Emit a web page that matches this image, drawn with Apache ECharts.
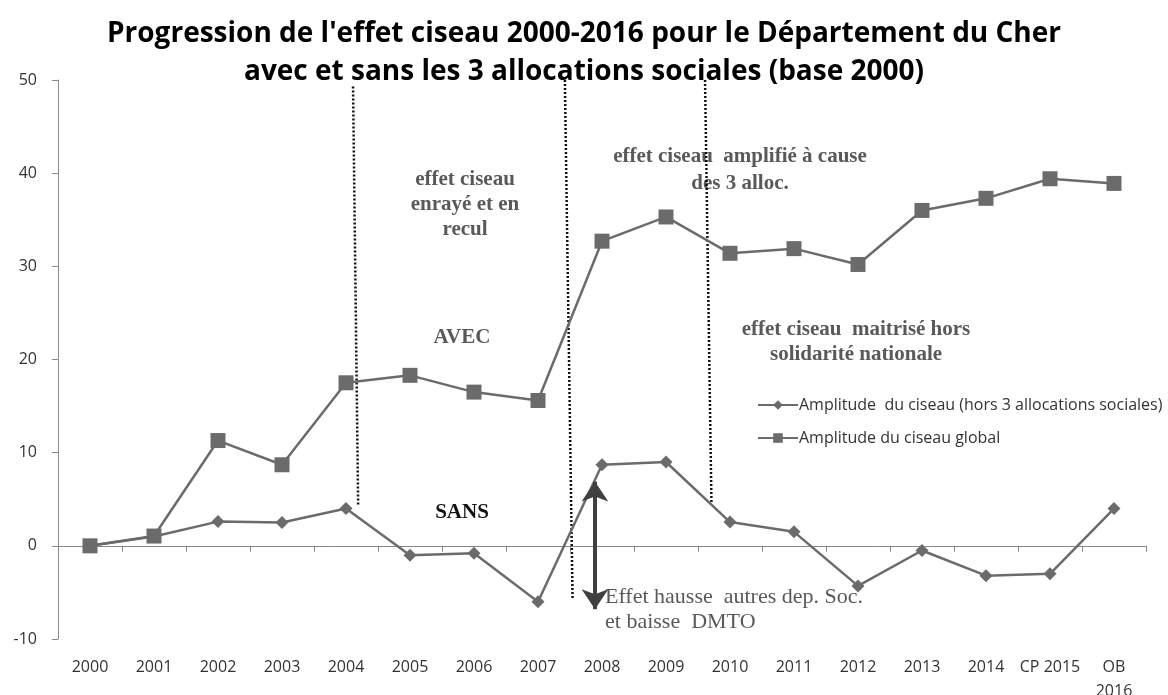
<!DOCTYPE html>
<html>
<head>
<meta charset="utf-8">
<script src="https://cdn.jsdelivr.net/npm/echarts@6/dist/echarts.min.js"></script>
<style>html,body{margin:0;padding:0;background:#fff}#c{width:1168px;height:695px}</style>
</head>
<body>
<div id="c"></div>
<script>
const categories = ['2000','2001','2002','2003','2004','2005','2006','2007','2008','2009','2010','2011','2012','2013','2014','CP 2015','OB\n2016'];
const horsAlloc = [0, 1.0, 2.6, 2.5, 4.0, -1.0, -0.8, -6.0, 8.7, 9.0, 2.55, 1.5, -4.3, -0.5, -3.2, -3.0, 4.0];
const global = [0, 1.05, 11.3, 8.7, 17.5, 18.3, 16.5, 15.6, 32.7, 35.3, 31.4, 31.9, 30.2, 36.0, 37.3, 39.4, 38.9];
const yTicks = {min: -10, max: 50, interval: 10};
const seriesNames = ['Amplitude  du ciseau (hors 3 allocations sociales)', 'Amplitude du ciseau global'];
// annotation separators, in (category index, value) units
const sep1 = [[4.11, 49.3], [4.19, 4.3]];
const sep2 = [[7.42, 50], [7.54, -5.7]];
const sep3 = [[9.61, 50], [9.71, 4.7]];
const arrow = [[7.89, 6.9], [7.89, -6.8]];

const chart = echarts.init(document.getElementById('c'));
const gray = '#6b6b6b';
const annColor = '#595959';
const serif = '"Liberation Serif", "Times New Roman", serif';
const sans = '"Open Sans", sans-serif';
function txt(x, y, text, opts) {
  return Object.assign({type: 'text', x: x, y: y, style: Object.assign({
    text: text, fill: annColor, font: 'bold 21px ' + serif, align: 'center', verticalAlign: 'middle', lineHeight: 25
  }, opts || {})});
}
const dotStyle = {color: '#111', width: 2.5, type: [2, 2]};
function sepSeries(d) {
  return {type: 'line', xAxisIndex: 2, data: d, symbol: 'none', silent: true, lineStyle: dotStyle, z: 1, animation: false};
}
chart.setOption({
  animation: false,
  title: {
    text: "Progression de l'effet ciseau 2000-2016 pour le Département du Cher\navec et sans les 3 allocations sociales (base 2000)",
    left: 'center', top: 10,
    textStyle: {fontFamily: sans, fontWeight: 'bold', fontSize: 28, color: '#000', lineHeight: 38}
  },
  legend: {
    orient: 'vertical', left: 752, top: 392, itemGap: 17, itemWidth: 40, itemHeight: 12,
    data: seriesNames,
    textStyle: {fontFamily: sans, fontSize: 16, color: '#333', padding: [0,0,0,-4]}
  },
  grid: {left: 58, right: 22, top: 80, bottom: 56, outerBoundsMode: 'none', containLabel: false},
  xAxis: [
    {type: 'category', data: categories, boundaryGap: true,
     axisLine: {onZero: true, lineStyle: {color: '#888', width: 1}},
     axisTick: {show: true, length: 6, lineStyle: {color: '#888'}},
     axisLabel: {show: false}},
    {type: 'category', data: categories, boundaryGap: true, position: 'bottom',
     axisLine: {show: false, onZero: false}, axisTick: {show: false},
     axisLabel: {show: true, interval: 0, margin: 16, fontFamily: sans, fontSize: 16, color: '#333', lineHeight: 24}},
    {type: 'value', min: -0.5, max: 16.5, show: false}
  ],
  yAxis: {type: 'value', min: yTicks.min, max: yTicks.max, interval: yTicks.interval,
    axisLine: {show: true, onZero: false, lineStyle: {color: '#888'}},
    axisTick: {show: true, length: 6, lineStyle: {color: '#888'}},
    splitLine: {show: false},
    axisLabel: {fontFamily: sans, fontSize: 16, color: '#333', margin: 21}},
  series: [
    {name: seriesNames[0], type: 'line', data: horsAlloc, symbol: 'diamond', symbolSize: 13,
     itemStyle: {color: gray}, lineStyle: {color: gray, width: 2.5}, z: 3},
    {name: seriesNames[1], type: 'line', data: global, symbol: 'rect', symbolSize: 15,
     itemStyle: {color: gray}, lineStyle: {color: gray, width: 2.5}, z: 3},
    sepSeries(sep1), sepSeries(sep2), sepSeries(sep3),
    {type: 'line', xAxisIndex: 2, data: [], silent: true,
     markLine: {silent: true, symbol: ['arrow', 'arrow'], symbolSize: [20, 20], label: {show: false},
       lineStyle: {color: '#404040', width: 4, type: 'solid'},
       data: [[{coord: arrow[0]}, {coord: arrow[1]}]]}}
  ],
  graphic: [
    txt(465, 205, 'effet ciseau\nenrayé et en\nrecul'),
    txt(740, 170, 'effet ciseau  amplifié à cause\ndes 3 alloc.', {lineHeight: 27}),
    txt(462, 338, 'AVEC'),
    txt(462, 513, 'SANS', {fill: '#111'}),
    txt(856, 342, 'effet ciseau  maitrisé hors\nsolidarité nationale'),
    txt(605, 610, 'Effet hausse  autres dep. Soc.\net baisse  DMTO', {font: '22px ' + serif, align: 'left', lineHeight: 25})
  ]
});
</script>
</body>
</html>
